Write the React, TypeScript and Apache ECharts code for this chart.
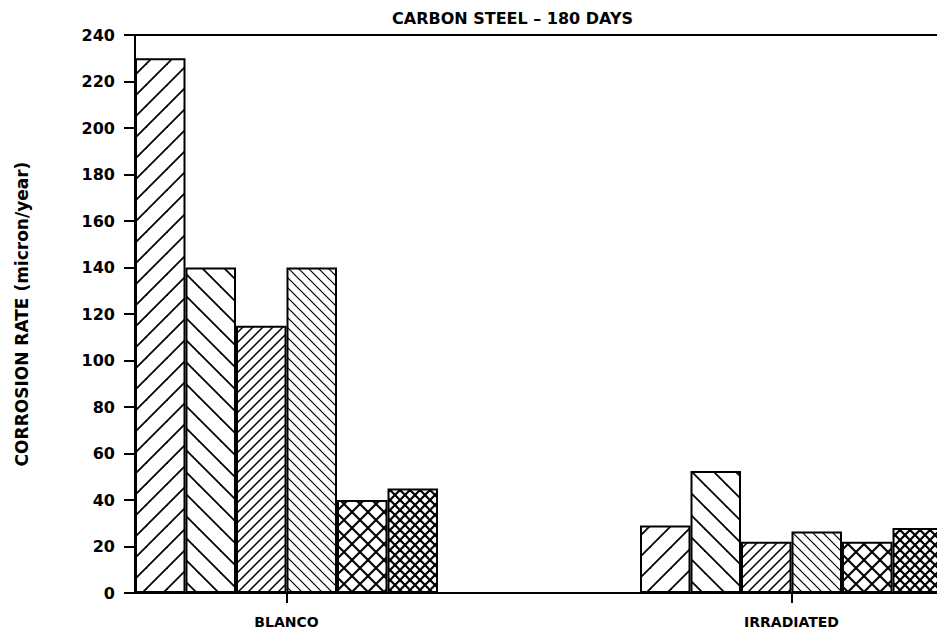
import React, { useEffect, useRef } from 'react';
import * as echarts from 'echarts';

// ---- data ----
const titleText = 'CARBON STEEL – 180 DAYS';
const yAxisTitle = 'CORROSION RATE (micron/year)';
const categories = ['BLANCO', 'IRRADIATED'];
const categoryPositions = [3, 13];
const seriesNames = ['Sample 1', 'Sample 2', 'Sample 3', 'Sample 4', 'Sample 5', 'Sample 6'];
const blancoValues = [230, 140, 115, 140, 40, 45];
const irradiatedValues = [29, 52.5, 22, 26.5, 22, 28];
const yMin = 0;
const yMax = 240;
const yStep = 20;

// ---- hatch styles ----
const hatchStyles = [
  { dir: '/', size: 21, width: 1.8 },
  { dir: '\\', size: 22, width: 1.8 },
  { dir: '/', size: 10, width: 1.5 },
  { dir: '\\', size: 10, width: 1.2 },
  { dir: 'x', size: 16, width: 2 },
  { dir: 'x', size: 10, width: 2.2 },
];

function makePattern(dir: string, s: number, w: number) {
  const c = document.createElement('canvas');
  c.width = s;
  c.height = s;
  const ctx = c.getContext('2d')!;
  ctx.fillStyle = '#fff';
  ctx.fillRect(0, 0, s, s);
  ctx.strokeStyle = '#000';
  ctx.lineWidth = w;
  ctx.lineCap = 'square';
  const seg = (x1: number, y1: number, x2: number, y2: number) => {
    ctx.beginPath();
    ctx.moveTo(x1, y1);
    ctx.lineTo(x2, y2);
    ctx.stroke();
  };
  if (dir === '/' || dir === 'x') {
    seg(-2, s + 2, s + 2, -2);
    seg(-2, 2, 2, -2);
    seg(s - 2, s + 2, s + 2, s - 2);
  }
  if (dir === '\\' || dir === 'x') {
    seg(-2, -2, s + 2, s + 2);
    seg(s - 2, -2, s + 2, 2);
    seg(-2, s - 2, 2, s + 2);
  }
  return { image: c, repeat: 'repeat' as const };
}

export default function App() {
  const ref = useRef<HTMLDivElement>(null);
  useEffect(() => {
    if (!ref.current) return;
    const chart = echarts.init(ref.current, null, { renderer: 'svg' });
    const font = 'DejaVu Sans';
    const series = seriesNames.map((name, i) => ({
      name,
      type: 'bar',
      barWidth: 50.5,
      barGap: '0%',
      data: [
        [categoryPositions[0], blancoValues[i]],
        [categoryPositions[1], irradiatedValues[i]],
      ],
      itemStyle: {
        color: makePattern(hatchStyles[i].dir, hatchStyles[i].size, hatchStyles[i].width),
        borderColor: '#000',
        borderWidth: 2,
      },
      emphasis: { disabled: true },
    }));
    chart.setOption({
      animation: false,
      backgroundColor: '#fff',
      title: {
        text: titleText,
        left: 392,
        top: 10,
        padding: 0,
        textStyle: { fontFamily: font, fontSize: 16, fontWeight: 'bold', color: '#000' },
      },
      grid: {
        left: 135,
        top: 35,
        width: 808,
        height: 558,
        outerBoundsMode: 'none',
        containLabel: false,
        show: true,
        borderColor: '#000',
        borderWidth: 2,
        backgroundColor: 'transparent',
      },
      xAxis: {
        type: 'value',
        min: 0,
        max: 16,
        splitLine: { show: false },
        axisLine: { show: true, lineStyle: { color: '#000', width: 2 } },
        axisTick: {
          show: true,
          customValues: categoryPositions,
          length: 10,
          lineStyle: { color: '#000', width: 2 },
        },
        axisLabel: {
          customValues: categoryPositions,
          formatter: (v: number) => {
            const idx = categoryPositions.indexOf(v);
            return idx >= 0 ? categories[idx] : '';
          },
          margin: 22,
          fontFamily: font,
          fontSize: 14,
          fontWeight: 'bold',
          color: '#000',
        },
      },
      yAxis: {
        type: 'value',
        min: yMin,
        max: yMax,
        interval: yStep,
        name: yAxisTitle,
        nameLocation: 'middle',
        nameGap: 105,
        nameTextStyle: { fontFamily: font, fontSize: 17, fontWeight: 'bold', color: '#000' },
        splitLine: { show: false },
        axisLine: { show: true, lineStyle: { color: '#000', width: 2 } },
        axisTick: { show: true, length: 11, lineStyle: { color: '#000', width: 2 } },
        axisLabel: {
          margin: 20,
          fontFamily: font,
          fontSize: 16,
          fontWeight: 'bold',
          color: '#000',
        },
      },
      series,
    });
    return () => chart.dispose();
  }, []);
  return (
    <div
      ref={ref}
      style={{ position: 'fixed', left: 0, top: 0, width: 937, height: 632, overflow: 'hidden' }}
    />
  );
}
